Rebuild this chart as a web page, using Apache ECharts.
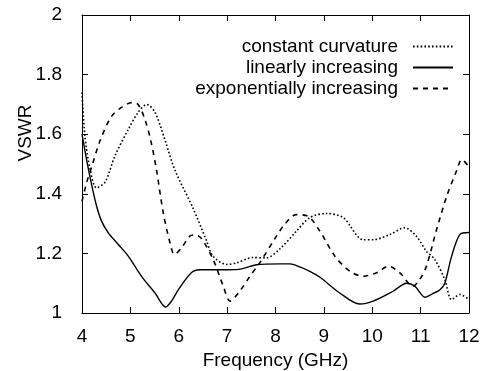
<!DOCTYPE html>
<html>
<head>
<meta charset="utf-8">
<script src="https://cdn.jsdelivr.net/npm/echarts@6/dist/echarts.min.js"></script>
<style>
  html, body { margin: 0; padding: 0; background: #fff; }
  #chart { width: 483px; height: 371px; }
</style>
</head>
<body>
<div id="chart"></div>
<script>
// 读图估计的数据 (frequency GHz, VSWR)
var seriesNames = ['constant curvature', 'linearly increasing', 'exponentially increasing'];

var constantCurvature = [
  [4.0, 1.74], [4.06, 1.594], [4.17, 1.48], [4.30, 1.42], [4.48, 1.44], [4.68, 1.527],
  [4.96, 1.617], [5.16, 1.673], [5.34, 1.70], [5.51, 1.673], [5.71, 1.583], [5.92, 1.48],
  [6.3, 1.35], [6.58, 1.24], [6.71, 1.19], [6.99, 1.163], [7.19, 1.168], [7.53, 1.186],
  [7.81, 1.185], [8.09, 1.215], [8.43, 1.274], [8.71, 1.32], [9.05, 1.334], [9.4, 1.32],
  [9.81, 1.246], [10.02, 1.246], [10.36, 1.263], [10.67, 1.286], [10.91, 1.258],
  [11.12, 1.207], [11.29, 1.18], [11.5, 1.112], [11.64, 1.045], [11.81, 1.062], [12.0, 1.045]
];

var linearlyIncreasing = [
  [4.0, 1.60], [4.1, 1.51], [4.2, 1.43], [4.3, 1.36], [4.4, 1.31], [4.54, 1.27],
  [4.75, 1.23], [4.96, 1.19], [5.23, 1.123], [5.51, 1.067], [5.73, 1.02], [5.85, 1.04],
  [6.0, 1.08], [6.26, 1.135], [6.44, 1.145], [7.0, 1.145], [7.3, 1.148], [7.61, 1.162],
  [8.09, 1.165], [8.3, 1.165], [8.5, 1.155], [8.71, 1.14], [8.92, 1.12], [9.33, 1.067],
  [9.74, 1.03], [10.02, 1.04], [10.43, 1.073], [10.71, 1.10], [10.88, 1.09], [11.09, 1.053],
  [11.25, 1.065], [11.4, 1.078], [11.5, 1.10], [11.64, 1.19], [11.81, 1.263], [12.0, 1.27]
];

var exponentiallyIncreasing = [
  [4.0, 1.375], [4.1, 1.44], [4.2, 1.49], [4.37, 1.577], [4.61, 1.66], [4.82, 1.69],
  [5.03, 1.706], [5.16, 1.70], [5.30, 1.65], [5.42, 1.58], [5.54, 1.48], [5.68, 1.336],
  [5.82, 1.235], [5.91, 1.196], [6.06, 1.219], [6.23, 1.258], [6.35, 1.262], [6.47, 1.25],
  [6.71, 1.18], [6.92, 1.09], [7.06, 1.04], [7.26, 1.073], [7.47, 1.123], [7.68, 1.17],
  [7.99, 1.25], [8.2, 1.30], [8.43, 1.33], [8.67, 1.325], [8.92, 1.274], [9.23, 1.19],
  [9.54, 1.14], [9.81, 1.123], [10.09, 1.135], [10.33, 1.157], [10.57, 1.135], [10.84, 1.09],
  [10.98, 1.112], [11.12, 1.157], [11.33, 1.28], [11.54, 1.392], [11.75, 1.48],
  [11.85, 1.515], [12.0, 1.49]
];

var fontFamily = '"Liberation Sans", Arial, sans-serif';
var fontSize = 19;

var chart = echarts.init(document.getElementById('chart'));

function axisCommon(showLabel, margin) {
  return {
    axisLine: { show: true, lineStyle: { color: '#000', width: 1 } },
    axisTick: { show: true, inside: true, length: 6, lineStyle: { color: '#000' } },
    axisLabel: { show: showLabel, margin: margin, color: '#000', fontSize: fontSize, fontFamily: fontFamily },
    splitLine: { show: false }
  };
}

var option = {
  animation: false,
  backgroundColor: '#fff',
  grid: { left: 82, right: 14, top: 15, bottom: 58, containLabel: false, outerBoundsMode: 'none' },
  legend: {
    orient: 'vertical',
    align: 'right',
    right: 24,
    top: 32,
    itemWidth: 40,
    itemHeight: 14,
    itemGap: 2,
    itemStyle: { opacity: 0 },
    textStyle: { color: '#000', fontSize: fontSize, fontFamily: fontFamily, padding: [0, 10, 0, 0] },
    data: seriesNames
  },
  xAxis: [
    Object.assign({
      type: 'value', min: 4, max: 12, interval: 1, position: 'bottom',
      name: 'Frequency (GHz)', nameLocation: 'middle', nameGap: 36,
      nameTextStyle: { color: '#000', fontSize: fontSize, fontFamily: fontFamily }
    }, axisCommon(true, 14)),
    Object.assign({ type: 'value', min: 4, max: 12, interval: 1, position: 'top' }, axisCommon(false, 8))
  ],
  yAxis: [
    Object.assign({
      type: 'value', min: 1, max: 2, interval: 0.2, position: 'left',
      name: 'VSWR', nameLocation: 'middle', nameGap: 47, nameMoveOverlap: false,
      nameTextStyle: { color: '#000', fontSize: fontSize, fontFamily: fontFamily, padding: [0, 0, 0, 62] }
    }, axisCommon(true, 20)),
    Object.assign({ type: 'value', min: 1, max: 2, interval: 0.2, position: 'right' }, axisCommon(false, 8))
  ],
  series: [
    {
      name: seriesNames[0], type: 'line', smooth: 0.3, symbol: 'none',
      data: constantCurvature,
      lineStyle: { color: '#000', width: 1.6, type: [1.6, 2.2] },
      itemStyle: { color: '#000' }
    },
    {
      name: seriesNames[1], type: 'line', smooth: 0.3, symbol: 'none',
      data: linearlyIncreasing,
      lineStyle: { color: '#000', width: 1.4, type: 'solid' },
      itemStyle: { color: '#000' }
    },
    {
      name: seriesNames[2], type: 'line', smooth: 0.3, symbol: 'none',
      data: exponentiallyIncreasing,
      lineStyle: { color: '#000', width: 1.6, type: [5, 5] },
      itemStyle: { color: '#000' }
    }
  ]
};

chart.setOption(option);
</script>
</body>
</html>
